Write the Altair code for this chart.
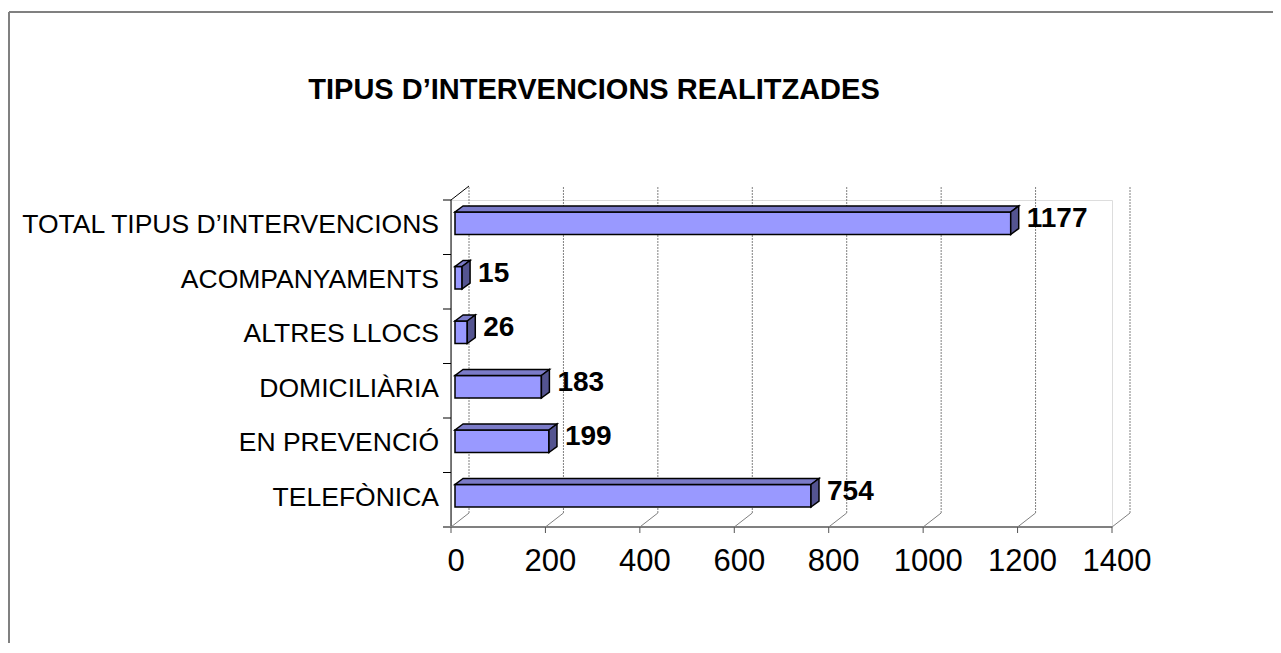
import altair as alt
import pandas as pd

# ---- data ----
categories = ["TOTAL TIPUS D’INTERVENCIONS", "ACOMPANYAMENTS", "ALTRES LLOCS",
              "DOMICILIÀRIA", "EN PREVENCIÓ", "TELEFÒNICA"]
values = [1177, 15, 26, 183, 199, 754]
x_ticks = [0, 200, 400, 600, 800, 1000, 1200, 1400]
title_text = "TIPUS D’INTERVENCIONS REALITZADES"

# ---- geometry / style constants ----
W, H = 661, 327              # front plot rectangle (pixels)
XMAX, NCAT = 1400, len(categories)
PXX = W / XMAX               # pixels per x unit
PXY = H / NCAT               # pixels per category band
FONT = "Liberation Sans, Arial, sans-serif"

WALL_DX, WALL_DY = 18, 14    # 3D depth of the walls (px)
BAR_DX, BAR_DY = 8, 6        # 3D depth of the bars (px)
SHIFT_X, SHIFT_Y = 4, 4      # bars sit a little into the depth (px)
BAR_HALF = 11.25             # half height of bar front face (px)

sx = SHIFT_X / PXX
sy = SHIFT_Y / PXY
dxu = BAR_DX / PXX
dyu = BAR_DY / PXY
hh = BAR_HALF / PXY

xs = alt.Scale(domain=[0, XMAX], nice=False, zero=False)
ys = alt.Scale(domain=[0, NCAT], nice=False, zero=False)

# bar tables built from the value lists
n = len(categories)
centers = [n - i - 0.5 for i in range(n)]
front = pd.DataFrame({
    "cat": categories, "v": values, "c": centers,
})
front["x0"] = sx
front["x1"] = front["v"] + sx
front["y0"] = front["c"] - hh + sy
front["y1"] = front["c"] + hh + sy

top_rows, side_rows = [], []
for cat, v, c in zip(categories, values, centers):
    top_rows.append({"cat": cat, "y": c + hh + sy, "xa": sx, "xb": v + sx})
    top_rows.append({"cat": cat, "y": c + hh + sy + dyu, "xa": sx + dxu, "xb": v + sx + dxu})
    side_rows.append({"cat": cat, "x": v + sx, "ya": c - hh + sy, "yb": c + hh + sy})
    side_rows.append({"cat": cat, "x": v + sx + dxu, "ya": c - hh + sy + dyu, "yb": c + hh + sy + dyu})
top = pd.DataFrame(top_rows)
side = pd.DataFrame(side_rows)

grid = pd.DataFrame({"t": x_ticks, "lo": 0, "hi": NCAT})
bounds = pd.DataFrame({"k": list(range(NCAT + 1)), "z": 0})
one = pd.DataFrame({"a": [0]})

# ---- layers ----
back_grid = alt.Chart(grid).mark_rule(
    stroke="#808080", strokeWidth=1, strokeDash=[2, 1],
    xOffset=WALL_DX, yOffset=-WALL_DY, y2Offset=-WALL_DY
).encode(x=alt.X("t:Q", scale=xs, axis=None),
         y=alt.Y("lo:Q", scale=ys, axis=None), y2="hi:Q")

floor_diag = alt.Chart(grid).mark_rule(
    stroke="#808080", strokeWidth=1, x2Offset=WALL_DX, y2Offset=-WALL_DY
).encode(x=alt.X("t:Q", scale=xs), x2="t:Q",
         y=alt.Y("lo:Q", scale=ys), y2="lo:Q")

wall_top = alt.Chart(grid[grid.t == 0]).mark_rule(
    stroke="black", strokeWidth=1, x2Offset=WALL_DX, y2Offset=-WALL_DY
).encode(x=alt.X("t:Q", scale=xs), x2="t:Q",
         y=alt.Y("hi:Q", scale=ys), y2="hi:Q")

left_axis = alt.Chart(grid[grid.t == 0]).mark_rule(
    stroke="black", strokeWidth=1
).encode(x=alt.X("t:Q", scale=xs), y=alt.Y("lo:Q", scale=ys), y2="hi:Q")

cat_ticks = alt.Chart(bounds).mark_rule(
    stroke="black", strokeWidth=1, xOffset=-8
).encode(x=alt.X("z:Q", scale=xs), x2="z:Q",
         y=alt.Y("k:Q", scale=ys), y2="k:Q")

bottom_axis = alt.Chart(pd.DataFrame({"a": [0], "b": [XMAX], "z": [0]})).mark_rule(
    stroke="#808080", strokeWidth=2, xOffset=-8
).encode(x=alt.X("a:Q", scale=xs), x2="b:Q", y=alt.Y("z:Q", scale=ys), y2="z:Q")

x_tick_marks = alt.Chart(grid).mark_rule(
    stroke="#555555", strokeWidth=1, y2Offset=6
).encode(x=alt.X("t:Q", scale=xs), x2="t:Q",
         y=alt.Y("lo:Q", scale=ys), y2="lo:Q")

x_tick_labels = alt.Chart(grid).mark_text(
    font=FONT, fontSize=31, color="black", align="center",
    baseline="alphabetic", dy=44, dx=5
).encode(x=alt.X("t:Q", scale=xs), y=alt.Y("lo:Q", scale=ys), text="t:Q")

bar_front = alt.Chart(front).mark_rect(
    fill="#9999FF", stroke="black", strokeWidth=1.5
).encode(x=alt.X("x0:Q", scale=xs), x2="x1:Q",
         y=alt.Y("y0:Q", scale=ys), y2="y1:Q")

bar_top = alt.Chart(top).mark_area(
    orient="horizontal", fill="#7B7BC8", stroke="black", strokeWidth=1.5, opacity=1
).encode(y=alt.Y("y:Q", scale=ys), x=alt.X("xa:Q", scale=xs), x2="xb:Q",
         detail="cat:N")

bar_side = alt.Chart(side).mark_area(
    orient="vertical", fill="#545490", stroke="black", strokeWidth=1.5, opacity=1
).encode(x=alt.X("x:Q", scale=xs), y=alt.Y("ya:Q", scale=ys), y2="yb:Q",
         detail="cat:N")

value_labels = alt.Chart(front).mark_text(
    font=FONT, fontSize=28, fontWeight="bold", color="black",
    align="left", baseline="middle", dx=SHIFT_X + 16, dy=-SHIFT_Y - 4
).encode(x=alt.X("v:Q", scale=xs), y=alt.Y("c:Q", scale=ys), text="v:Q")

cat_labels = alt.Chart(front).mark_text(
    font=FONT, fontSize=26.5, color="black", align="right",
    baseline="middle", dx=-12, dy=-2
).encode(x=alt.value(0), y=alt.Y("c:Q", scale=ys), text="cat:N")

title = alt.Chart(one).mark_text(
    font=FONT, fontSize=29, fontWeight="bold", color="black",
    align="center", baseline="alphabetic"
).encode(x=alt.value(143), y=alt.value(-101), text=alt.value(title_text))

frame_top = alt.Chart(one).mark_rule(stroke="#808080", strokeWidth=2).encode(
    x=alt.value(-442), x2=alt.value(900), y=alt.value(-188))
frame_left = alt.Chart(one).mark_rule(stroke="#808080", strokeWidth=2).encode(
    x=alt.value(-442), y=alt.value(-188), y2=alt.value(500))

chart = alt.layer(
    frame_top, frame_left,
    back_grid, floor_diag, wall_top, left_axis, cat_ticks, bottom_axis,
    x_tick_marks, x_tick_labels,
    bar_front, bar_top, bar_side,
    value_labels, cat_labels, title
).properties(
    width=W, height=H,
    autosize=alt.AutoSizeParams(type="none"),
    padding={"left": 443, "top": 192, "right": 161, "bottom": 116},
).configure_view(stroke=None).configure(background="white")

chart.save("out.html", embed_options={"renderer": "svg", "actions": False})
